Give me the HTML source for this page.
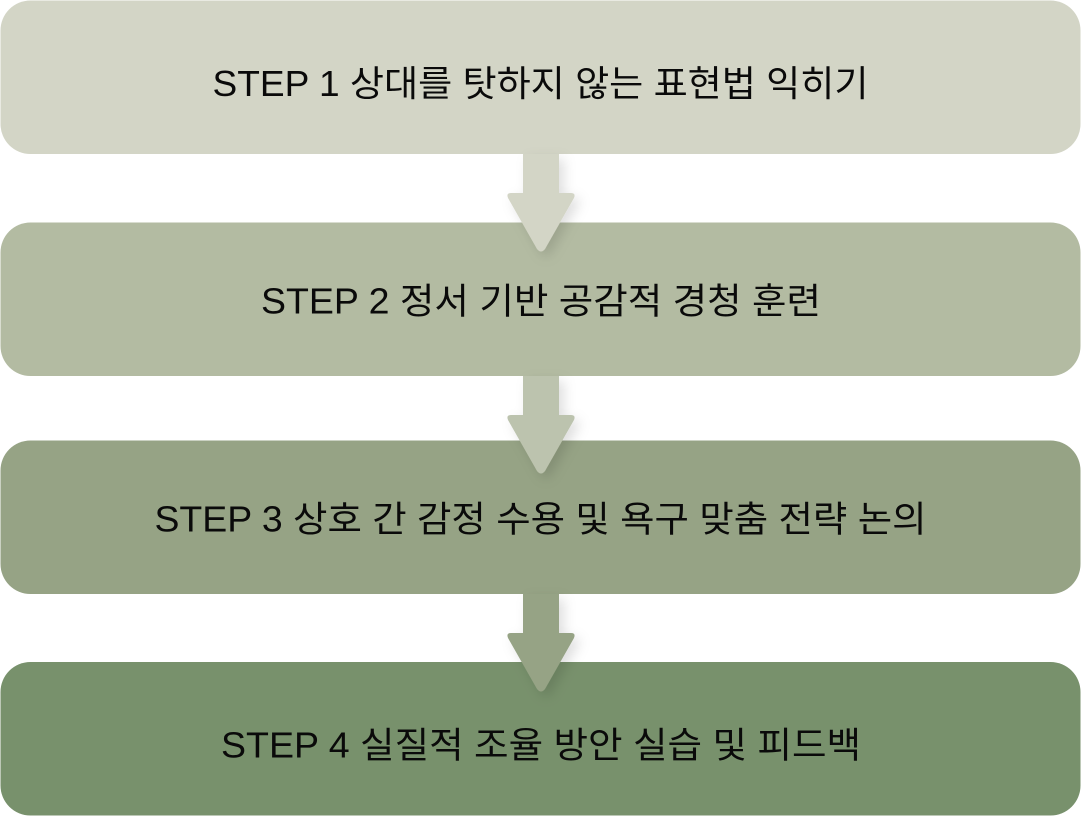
<!DOCTYPE html>
<html><head><meta charset="utf-8"><style>
html,body{margin:0;padding:0;background:#fff;width:1081px;height:820px;overflow:hidden}
svg{display:block}
text{font-family:"Liberation Sans","Noto Sans CJK KR",sans-serif;font-size:36px;fill:#0a0a0a;text-anchor:middle}
</style></head><body>
<svg width="1081" height="820" viewBox="0 0 1081 820" xmlns="http://www.w3.org/2000/svg">
<defs><filter id="s" x="-40%" y="-20%" width="200%" height="150%"><feDropShadow dx="5" dy="5" stdDeviation="6" flood-color="#000" flood-opacity=".13"/></filter></defs>
<rect x="0.5" y="0.5" width="1080" height="153.5" rx="30" fill="#D3D5C6"/>
<rect x="0.5" y="222.5" width="1080" height="153.5" rx="30" fill="#B3BBA2"/>
<rect x="0.5" y="440.5" width="1080" height="153.5" rx="30" fill="#96A385"/>
<rect x="0.5" y="662" width="1080" height="153.5" rx="30" fill="#78916C"/>
<path d="M523 154H559V193H571Q576 193 574 198L545 249Q541 254 537 249L508 198Q506 193 511 193H523Z" fill="#D3D5C6" filter="url(#s)"/>
<path d="M523 376H559V415H571Q576 415 574 420L545 471Q541 476 537 471L508 420Q506 415 511 415H523Z" fill="#BCC3AE" filter="url(#s)"/>
<path d="M523 594H559V633H571Q576 633 574 638L545 689Q541 694 537 689L508 638Q506 633 511 633H523Z" fill="#96A385" filter="url(#s)"/>
<text x="540.5" y="96" textLength="656" lengthAdjust="spacingAndGlyphs">STEP 1 상대를 탓하지 않는 표현법 익히기</text>
<text x="541" y="313.5" textLength="560" lengthAdjust="spacingAndGlyphs">STEP 2 정서 기반 공감적 경청 훈련</text>
<text x="540.5" y="531.5" textLength="772" lengthAdjust="spacingAndGlyphs">STEP 3 상호 간 감정 수용 및 욕구 맞춤 전략 논의</text>
<text x="541" y="757.5" textLength="640" lengthAdjust="spacingAndGlyphs">STEP 4 실질적 조율 방안 실습 및 피드백</text>
</svg>
</body></html>
